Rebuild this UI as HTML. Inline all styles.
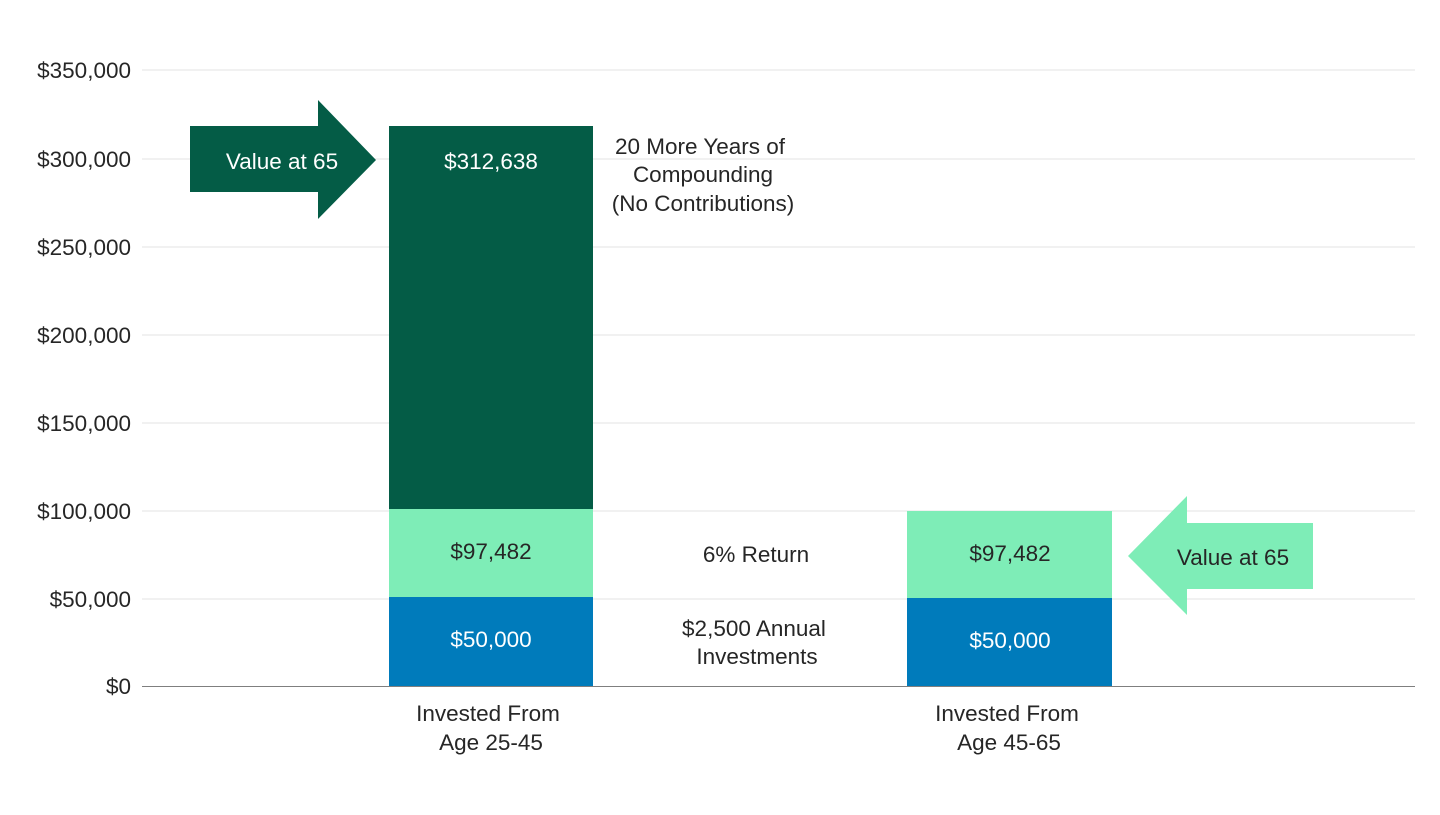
<!DOCTYPE html>
<html><head><meta charset="utf-8"><style>
body{margin:0;background:#fff;}
svg text{font-family:"Liberation Sans",Arial,sans-serif;}
</style></head><body>
<svg width="1440" height="810" viewBox="0 0 1440 810" xmlns="http://www.w3.org/2000/svg">
<g stroke="#e3e3e3" stroke-width="1">
<line x1="142" y1="70" x2="1415" y2="70"/>
<line x1="142" y1="159" x2="1415" y2="159"/>
<line x1="142" y1="247" x2="1415" y2="247"/>
<line x1="142" y1="335" x2="1415" y2="335"/>
<line x1="142" y1="423" x2="1415" y2="423"/>
<line x1="142" y1="511" x2="1415" y2="511"/>
<line x1="142" y1="599" x2="1415" y2="599"/>
</g>
<g font-size="22.5" fill="#262626" text-anchor="end">
<text x="131" y="78">$350,000</text>
<text x="131" y="167">$300,000</text>
<text x="131" y="255">$250,000</text>
<text x="131" y="343">$200,000</text>
<text x="131" y="431">$150,000</text>
<text x="131" y="519">$100,000</text>
<text x="131" y="607">$50,000</text>
<text x="131" y="694">$0</text>
</g>
<rect x="389" y="126" width="204" height="383" fill="#045c46"/>
<rect x="389" y="509" width="204" height="88" fill="#7eedb7"/>
<rect x="389" y="597" width="204" height="89" fill="#007bbb"/>
<rect x="907" y="511" width="205" height="87" fill="#7eedb7"/>
<rect x="907" y="598" width="205" height="88" fill="#007bbb"/>
<line x1="142" y1="686.5" x2="1415" y2="686.5" stroke="#7f7f7f" stroke-width="1"/>
<polygon points="190,126 318,126 318,100 376,160 318,219 318,192 190,192" fill="#045c46"/>
<polygon points="1313,523 1187,523 1187,496 1128,556 1187,615 1187,589 1313,589" fill="#7eedb7"/>
<g font-size="22.5" text-anchor="middle">
<text x="282" y="169" fill="#fff">Value at 65</text>
<text x="1233" y="565" fill="#262626">Value at 65</text>
<text x="491" y="169" fill="#fff">$312,638</text>
<text x="491" y="559" fill="#262626">$97,482</text>
<text x="491" y="647" fill="#fff">$50,000</text>
<text x="1010" y="561" fill="#262626">$97,482</text>
<text x="1010" y="648" fill="#fff">$50,000</text>
<g fill="#262626">
<text x="700" y="154">20 More Years of</text>
<text x="703" y="182">Compounding</text>
<text x="703" y="211">(No Contributions)</text>
<text x="756" y="562">6% Return</text>
<text x="754" y="636">$2,500 Annual</text>
<text x="757" y="664">Investments</text>
<text x="488" y="721">Invested From</text>
<text x="491" y="750">Age 25-45</text>
<text x="1007" y="721">Invested From</text>
<text x="1009" y="750">Age 45-65</text>
</g>
</g>
</svg>
</body></html>
